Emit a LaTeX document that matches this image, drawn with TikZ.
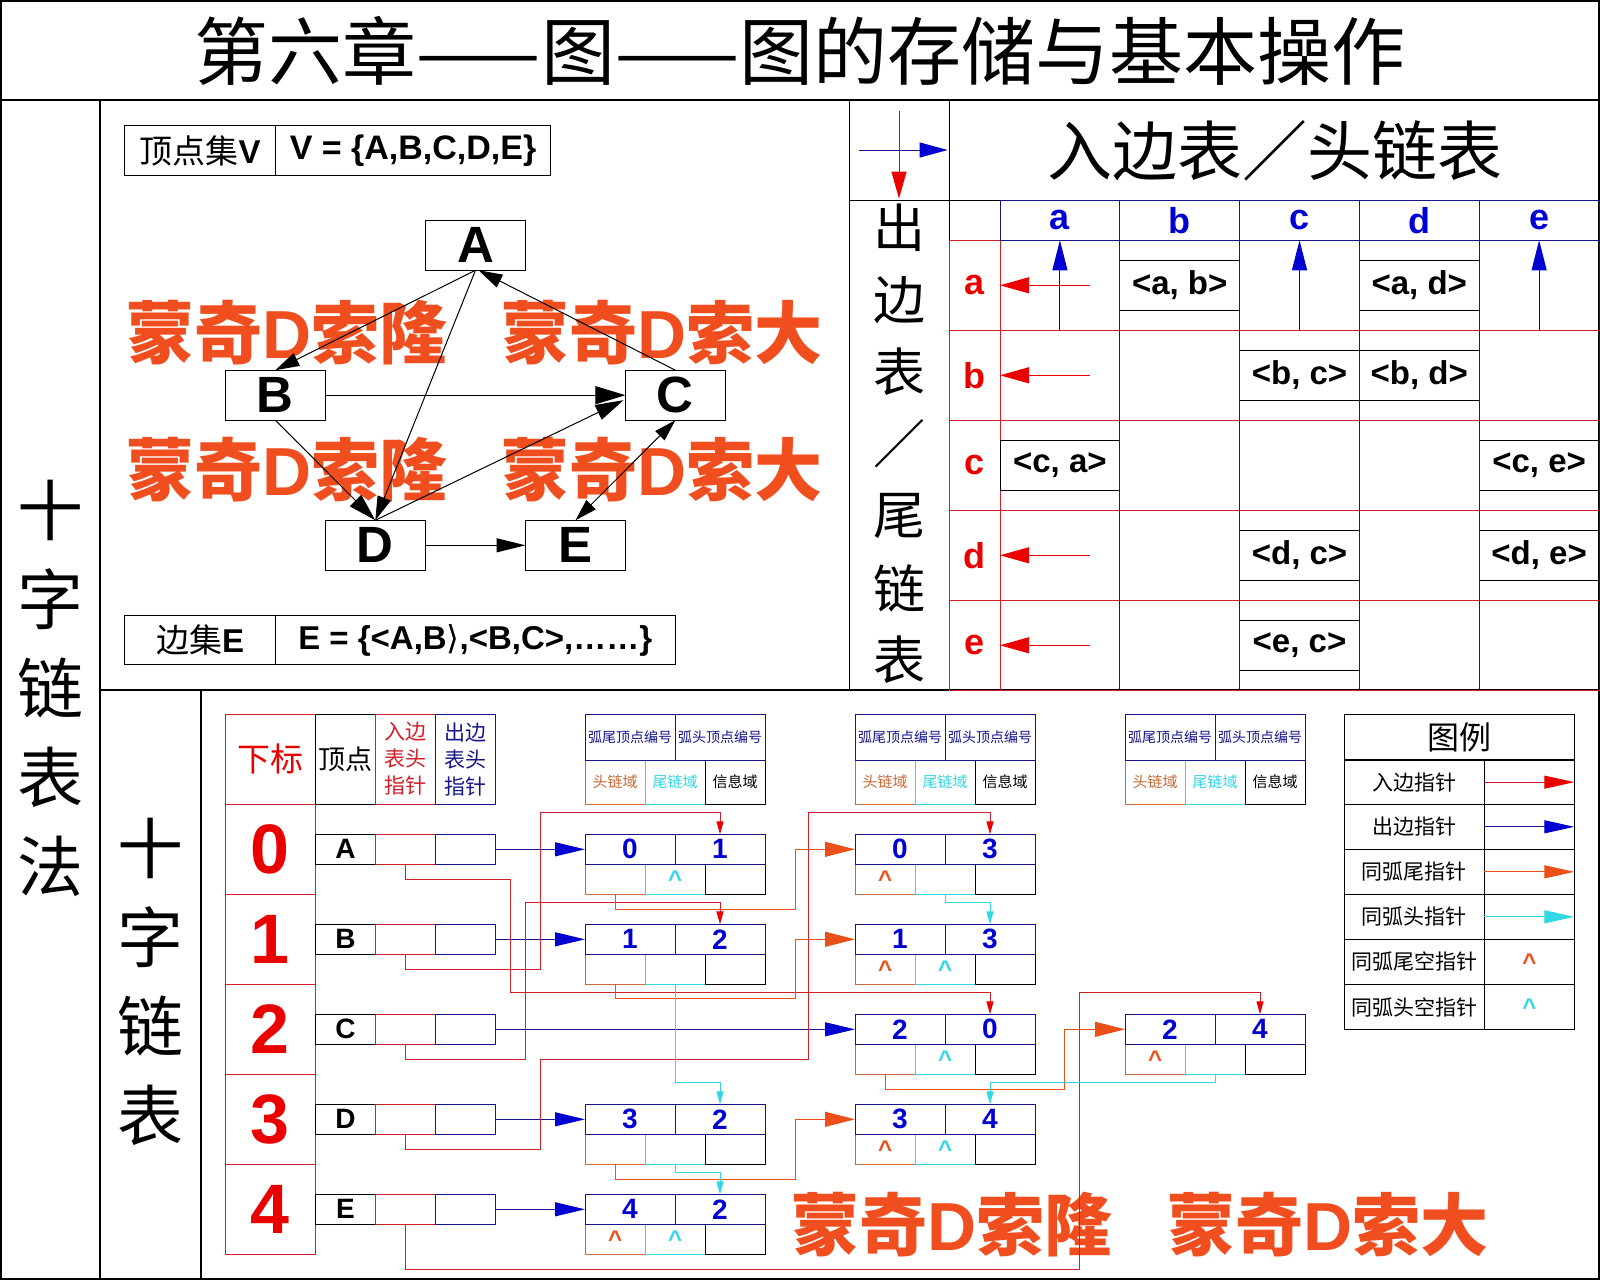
\documentclass[tikz,border=0pt]{standalone}
\usepackage{fontspec}
\setmainfont{Liberation Sans}
\newfontfamily\cjk{Noto Sans CJK SC}
\newfontfamily\djv{DejaVu Sans}
\usetikzlibrary{arrows.meta,calc}
\newcommand{\fsz}[1]{\fontsize{#1}{#1}\selectfont}
\definecolor{wmc}{RGB}{240,78,30}
\definecolor{lred}{RGB}{210,30,40}
\definecolor{ared}{RGB}{235,0,0}
\definecolor{navy}{RGB}{20,20,140}
\definecolor{ablue}{RGB}{0,0,210}
\definecolor{orng}{RGB}{235,80,25}
\definecolor{ocell}{RGB}{200,105,55}
\definecolor{cyn}{RGB}{50,215,230}
\newcommand{\arcnode}[5]{%
  \node[cL] (#1L) at (#2+30,#3+30) {};
  \node[cM] (#1M) at (#2+90,#3+30) {};
  \node[cR] (#1R) at (#2+150,#3+30) {};
  \node[cT] (#1t) at (#2+45,#3) {#4};
  \node[cT] (#1h) at (#2+135,#3) {#5};}
\begin{document}
\begin{tikzpicture}[x=1pt,y=-1pt,
  every node/.style={inner sep=0pt,outer sep=0pt},
  lw/.style={line width=1pt},
  gbox/.style={draw,lw,minimum width=100pt,minimum height=50pt,font=\bfseries\fsz{51}},
  garr/.style={lw,-{Triangle[length=24pt,width=14pt]}},
  wm/.style={text=wmc,font=\bfseries\fsz{68}},
  ebox/.style={draw,lw,minimum width=119.8pt,minimum height=50pt,font=\bfseries\fsz{33}},
  rlab/.style={draw=lred,lw,minimum width=50.5pt,minimum height=90pt,text=ared,font=\bfseries\fsz{36}},
  clab/.style={draw=navy,lw,minimum width=119.8pt,minimum height=39.8pt,text=ablue,font=\bfseries\fsz{36}},
  rarr/.style={draw=ared,lw,-{Triangle[length=29pt,width=16pt]}},
  barr/.style={draw=ablue,lw,-{Triangle[length=30pt,width=15pt]}},
  vch/.style={font=\cjk\fsz{66}},
  cL/.style={draw=ocell,lw,minimum width=60pt,minimum height=30pt},
  cM/.style={draw=cyn,lw,minimum width=60pt,minimum height=30pt},
  cR/.style={draw,lw,minimum width=60pt,minimum height=30pt},
  cT/.style={draw=navy,lw,minimum width=90pt,minimum height=30pt,text=ablue,font=\bfseries\fsz{28}},
  inp/.style={draw=lred,lw,-{Triangle[length=13pt,width=7pt,color=ared]}},
  outp/.style={draw=navy,lw,-{Triangle[length=30pt,width=14pt,color=ablue]}},
  tlk/.style={draw=orng,lw,-{Triangle[length=30pt,width=15pt]}},
  hlk/.style={draw=cyn,lw,-{Triangle[length=13pt,width=7pt]}},
  nullO/.style={text=orng,font=\bfseries\fsz{24}},
  nullC/.style={text=cyn,font=\bfseries\fsz{24}},
  lgcell/.style={draw,lw,minimum height=45pt}
]
\fill[white] (0,0) rectangle (1600,1280);
\useasboundingbox (0,0) rectangle (1600,1280);

% ---------- frame ----------
\draw[line width=2pt] (1,1) rectangle (1599,1279);
\draw[line width=1.5pt] (0,100) -- (1600,100);
\draw[line width=1.5pt] (100,100) -- (100,1280);
\draw[line width=1.5pt] (100,690) -- (1600,690);
\draw[line width=1.5pt] (849.7,100) -- (849.7,690);
\draw[line width=1.2pt] (201,690) -- (201,1280);

\node[font=\cjk\fsz{74}] (title) at (800,51) {第六章——图——图的存储与基本操作};

\foreach \ch [count=\k from 0] in {十,字,链,表,法}
  \node[vch] (lt\k) at (50,{510+89*\k}) {\ch};
\foreach \ch [count=\k from 0] in {十,字,链,表}
  \node[vch] (it\k) at (150.5,{848+89*\k}) {\ch};

% ---------- watermark ----------
\node[wm] (wm1) at (287,333) {{\cjk 蒙奇}D{\cjk 索隆}};
\node[wm] (wm2) at (662,333) {{\cjk 蒙奇}D{\cjk 索大}};
\node[wm] (wm3) at (287,470) {{\cjk 蒙奇}D{\cjk 索隆}};
\node[wm] (wm4) at (662,470) {{\cjk 蒙奇}D{\cjk 索大}};
\node[wm] (wm5) at (952,1225) {{\cjk 蒙奇}D{\cjk 索隆}};
\node[wm] (wm6) at (1328,1225) {{\cjk 蒙奇}D{\cjk 索大}};

% ---------- graph ----------
\node[draw,lw,minimum width=150.6pt,minimum height=49.7pt,font=\fsz{33}] (vsl) at (200.2,150.5) {{\cjk 顶点集}\textbf{V}};
\node[draw,lw,minimum width=275.1pt,minimum height=49.7pt,font=\bfseries\fsz{34}] (vsr) at (413.05,150.5) {V = \{A,B,C,D,E\}};
\node[draw,lw,minimum width=150.6pt,minimum height=48.9pt,font=\fsz{33}] (esl) at (200.2,640) {{\cjk 边集}\textbf{E}};
\node[draw,lw,minimum width=399.5pt,minimum height=48.9pt,font=\bfseries\fsz{33}] (esr) at (475.25,640) {E = \{<A,B{\djv\mdseries ⟩},<B,C>,……\}};

\node[gbox] (A) at (475.5,245.2) {A};
\node[gbox] (B) at (275.3,395.2) {B};
\node[gbox] (C) at (675.4,395.2) {C};
\node[gbox] (D) at (375.3,545.3) {D};
\node[gbox] (E) at (575.5,545.3) {E};

\draw[garr] (A.south) -- (B.north);
\draw[garr] (A.south) -- (D.north);
\draw[garr] (C.north) -- ($(A.south)+(3,0)$);
\draw[lw,-{Triangle[length=30pt,width=18pt]}] (B.east) -- (C.west);
\draw[lw,-{Triangle[length=28pt,width=16pt]}] (B.south) -- (D.north);
\draw[lw,-{Triangle[length=28pt,width=16pt]}] (D.north) -- ($(C.west)+(-2,5)$);
\draw[lw,{Triangle[length=22pt,width=13pt]}-{Triangle[length=22pt,width=13pt]}] (C.south) -- (E.north);
\draw[lw,-{Triangle[length=29pt,width=14pt]}] (D.east) -- (E.west);

% ---------- table (top right) ----------
\draw[lw] (949.5,100) -- (949.5,240.3);
\draw[lw] (849.7,200.5) -- (1000,200.5);
\coordinate (hb1) at (859.4,150);
\coordinate (hb2) at (947.6,150);
\coordinate (hr1) at (899,110.5);
\coordinate (hr2) at (899,198.6);
\draw[draw=navy,lw,-{Triangle[length=28pt,width=15pt,color=ablue]}] (hb1) -- (hb2);
\draw[draw=ared,lw,-{Triangle[length=27pt,width=15pt]}] (hr1) -- (hr2);
\node[font=\cjk\fsz{65}] (tt) at (1275,151) {入边表／头链表};
\foreach \ch [count=\k from 0] in {出,边,表,／,尾,链,表}
  \node[font=\cjk\fsz{52}] (ot\k) at (899,{228+72*\k}) {\ch};

\foreach \k in {0,...,4}
  \draw[lred,lw] (949.5,{240.3+90*\k}) rectangle (1599,{330.3+90*\k});
\foreach \lab [count=\k from 0] in {a,b,c,d,e}
  \node[rlab] (rl\k) at (974.75,{285.3+90*\k}) {\lab};

\node[ebox] (eb01) at (1179.7,285.3) {<a, b>};
\node[ebox] (eb03) at (1419.3,285.3) {<a, d>};
\node[ebox] (eb12) at (1299.5,375.3) {<b, c>};
\node[ebox] (eb13) at (1419.3,375.3) {<b, d>};
\node[ebox] (eb20) at (1059.9,465.3) {<c, a>};
\node[ebox] (eb24) at (1539.1,465.3) {<c, e>};
\node[ebox] (eb32) at (1299.5,555.3) {<d, c>};
\node[ebox] (eb34) at (1539.1,555.3) {<d, e>};
\node[ebox] (eb42) at (1299.5,645.3) {<e, c>};

\foreach \k in {1,...,5}
  \draw[navy,lw] ({1000+119.8*\k},200.5) -- ({1000+119.8*\k},690);
\foreach \lab [count=\k from 0] in {a,b,c,d,e}
  \node[clab] (ch\k) at ({1059.9+119.8*\k},220.4) {\lab};

\foreach \k in {0,1,3,4} {
  \coordinate (rs\k) at (1089.6,{285.3+90*\k});
  \draw[rarr] (rs\k) -- (rl\k.east);
}
\foreach \k in {0,2,4} {
  \coordinate (cs\k) at ({1059.9+119.8*\k},330.3);
  \draw[barr] (cs\k) -- (ch\k.south);
}

% ---------- orthogonal list (bottom) ----------
\node[draw=lred,lw,minimum width=90.2pt,minimum height=90.3pt,text=ared,font=\cjk\fsz{33}] (hidx) at (270.3,759.15) {下标};
\foreach \k in {0,...,4}
  \node[draw=lred,lw,minimum width=90.2pt,minimum height=90pt,text=ared,font=\bfseries\fsz{70}] (ix\k) at (270.3,{849.3+90*\k}) {\k};
\node[draw,lw,minimum width=60pt,minimum height=90.3pt,font=\cjk\fsz{27}] (hv) at (345.4,759.15) {顶点};
\node[draw=lred,lw,minimum width=60pt,minimum height=90.3pt,text=lred,align=center,font=\cjk\fontsize{21}{27}\selectfont] (hin) at (405.4,759.15) {入边\\表头\\指针};
\node[draw=navy,lw,minimum width=60pt,minimum height=90.3pt,text=navy,align=center,font=\cjk\fontsize{21}{27}\selectfont] (hout) at (465.4,759.15) {出边\\表头\\指针};

\foreach \v [count=\k from 0] in {A,B,C,D,E} {
  \node[draw,lw,minimum width=60pt,minimum height=30pt,font=\bfseries\fsz{28}] (vn\k) at (345.4,{849.3+90*\k}) {\v};
  \node[draw=lred,lw,minimum width=60pt,minimum height=30pt] (vin\k) at (405.4,{849.3+90*\k}) {};
  \node[draw=navy,lw,minimum width=60pt,minimum height=30pt] (vout\k) at (465.4,{849.3+90*\k}) {};
}

% templates
\foreach \xx [count=\k] in {585,855,1125} {
  \node[draw=ocell,lw,minimum width=60pt,minimum height=44.3pt,text=ocell,font=\cjk\fsz{15}] (tl\k) at (\xx+30,782.15) {头链域};
  \node[draw=cyn,lw,minimum width=60pt,minimum height=44.3pt,text=cyn,font=\cjk\fsz{15}] (tm\k) at (\xx+90,782.15) {尾链域};
  \node[draw,lw,minimum width=60pt,minimum height=44.3pt,font=\cjk\fsz{15}] (tr\k) at (\xx+150,782.15) {信息域};
  \node[draw=navy,lw,minimum width=90pt,minimum height=46pt,text=navy,font=\cjk\fsz{14}] (tta\k) at (\xx+45,737) {弧尾顶点编号};
  \node[draw=navy,lw,minimum width=90pt,minimum height=46pt,text=navy,font=\cjk\fsz{14}] (thb\k) at (\xx+135,737) {弧头顶点编号};
}

% arc nodes
\arcnode{a01}{585}{849.3}{0}{1}
\arcnode{a12}{585}{939.3}{1}{2}
\arcnode{a32}{585}{1119.3}{3}{2}
\arcnode{a42}{585}{1209.3}{4}{2}
\arcnode{a03}{855}{849.3}{0}{3}
\arcnode{a13}{855}{939.3}{1}{3}
\arcnode{a20}{855}{1029.3}{2}{0}
\arcnode{a34}{855}{1119.3}{3}{4}
\arcnode{a24}{1125}{1029.3}{2}{4}

% null markers
\node[nullC] (z1) at (a01M) {\textasciicircum};
\node[nullO] (z2) at (a42L) {\textasciicircum};
\node[nullC] (z3) at (a42M) {\textasciicircum};
\node[nullO] (z4) at (a03L) {\textasciicircum};
\node[nullO] (z5) at (a13L) {\textasciicircum};
\node[nullC] (z6) at (a13M) {\textasciicircum};
\node[nullC] (z7) at (a20M) {\textasciicircum};
\node[nullO] (z8) at (a34L) {\textasciicircum};
\node[nullC] (z9) at (a34M) {\textasciicircum};
\node[nullO] (z10) at (a24L) {\textasciicircum};

% out pointers
\draw[outp] (vout0.east) -- (a01t.west);
\draw[outp] (vout1.east) -- (a12t.west);
\draw[outp] (vout2.east) -- (a20t.west);
\draw[outp] (vout3.east) -- (a32t.west);
\draw[outp] (vout4.east) -- (a42t.west);

% in pointers
\draw[inp] (vin0.south) -- (405.4,879.3) -- (510.7,879.3) -- (510.7,992.7) -- (990,992.7) -- (a20h.north);
\draw[inp] (vin1.south) -- (405.4,969.3) -- (540.3,969.3) -- (540.3,812.7) -- (720,812.7) -- (a01h.north);
\draw[inp] (vin2.south) -- (405.4,1059) -- (525.5,1059) -- (525.5,902.7) -- (720,902.7) -- (a12h.north);
\draw[inp] (vin3.south) -- (405.4,1149.3) -- (540.3,1149.3) -- (540.3,1059) -- (808.9,1059) -- (808.9,812.7) -- (990,812.7) -- (a03h.north);
\draw[inp] (vin4.south) -- (405.4,1269.3) -- (1079,1269.3) -- (1079,992) -- (1260,992) -- (a24h.north);

% same-tail links
\draw[tlk] (a01L.south) -- (615,909.3) -- (795.7,909.3) -- (795.7,849.3) -- (a03t.west);
\draw[tlk] (a12L.south) -- (615,998.3) -- (795.7,998.3) -- (795.7,939.3) -- (a13t.west);
\draw[tlk] (a20L.south) -- (885,1089) -- (1064.3,1089) -- (1064.3,1029.3) -- (a24t.west);
\draw[tlk] (a32L.south) -- (615,1179.3) -- (795.7,1179.3) -- (795.7,1119.3) -- (a34t.west);

% same-head links
\draw[hlk] (a12M.south) -- (675,1082.3) -- (720,1082.3) -- (a32h.north);
\draw[hlk] (a32M.south) -- (675,1172.7) -- (720,1172.7) -- (a42h.north);
\draw[hlk] (a03M.south) -- (945,902.3) -- (990,902.3) -- (a13h.north);
\draw[hlk] (a24M.south) -- (1215,1082.3) -- (990,1082.3) -- (a34h.north);

% ---------- legend ----------
\node[draw,lw,minimum width=230pt,minimum height=46pt,font=\cjk\fsz{32}] (lgt) at (1459.3,737) {图例};
\foreach \lab/\yy [count=\k] in {入边指针/782.15,出边指针/826.8,同弧尾指针/871.8,同弧头指针/916.8,同弧尾空指针/961.8,同弧头空指针/1007.15} {
  \node[lgcell,minimum width=140pt,font=\cjk\fsz{21}] (lgL\k) at (1414.3,\yy) {\lab};
  \node[lgcell,minimum width=90pt] (lgR\k) at (1529.3,\yy) {};
}
\draw[draw=lred,lw,-{Triangle[length=30pt,width=13pt,color=ared]}] (lgR1.west) -- (lgR1.east);
\draw[draw=navy,lw,-{Triangle[length=30pt,width=13pt,color=ablue]}] (lgR2.west) -- (lgR2.east);
\draw[draw=orng,lw,-{Triangle[length=30pt,width=13pt]}] (lgR3.west) -- (lgR3.east);
\draw[draw=cyn,lw,-{Triangle[length=30pt,width=13pt]}] (lgR4.west) -- (lgR4.east);
\node[nullO] (lz1) at (lgR5) {\textasciicircum};
\node[nullC] (lz2) at (lgR6) {\textasciicircum};
\end{tikzpicture}
\end{document}
